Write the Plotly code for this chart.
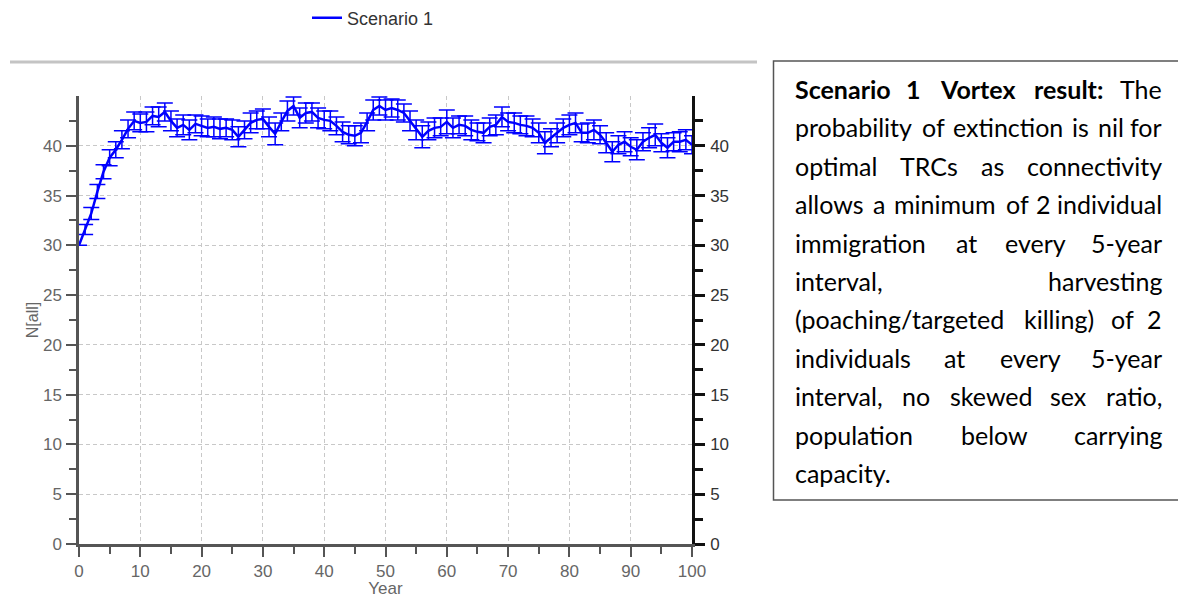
import plotly.graph_objects as go

# ---------------- data ----------------
series_name = "Scenario 1"
years = list(range(0, 101))
mean_n = [
    30.0, 31.6, 33.2, 35.4, 37.4, 38.8, 39.6, 40.6, 41.7, 42.5,
    42.3, 42.4, 43.0, 42.9, 43.4, 42.5, 41.8, 42.1, 41.6, 42.2,
    42.0, 41.8, 41.9, 41.7, 41.8, 41.6, 40.9, 41.6, 42.3, 42.6,
    42.7, 41.9, 41.2, 42.4, 43.5, 44.0, 42.8, 43.3, 43.4, 42.8,
    42.6, 42.5, 42.0, 41.4, 41.1, 41.0, 41.3, 42.4, 43.6, 44.0,
    43.6, 43.8, 43.6, 43.3, 42.5, 41.6, 40.9, 41.5, 41.8, 41.9,
    42.4, 41.8, 42.1, 42.0, 41.6, 41.4, 41.3, 41.9, 42.1, 42.9,
    42.4, 42.3, 42.1, 42.0, 41.8, 41.3, 40.3, 40.8, 41.3, 41.8,
    42.1, 42.3, 41.3, 41.3, 41.6, 41.1, 40.3, 39.4, 40.1, 40.4,
    39.9, 39.6, 40.4, 40.8, 41.1, 40.3, 39.8, 40.4, 40.4, 40.6,
    40.1,
]
se_n = [
    0.0, 0.5, 0.6, 0.7, 0.7, 0.8, 0.8, 0.9, 0.9, 0.9,
    0.9, 1.0, 0.9, 1.0, 0.9, 1.0, 0.9, 1.0, 1.0, 0.9,
    1.0, 0.9, 1.0, 1.0, 0.9, 1.0, 1.0, 0.9, 1.0, 0.9,
    1.0, 1.0, 1.1, 0.9, 1.0, 0.9, 1.0, 1.0, 0.9, 1.0,
    0.9, 1.0, 0.9, 1.0, 0.9, 1.0, 1.0, 0.9, 1.0, 0.9,
    1.0, 0.9, 1.0, 0.9, 1.0, 1.0, 1.1, 0.9, 1.0, 0.9,
    1.2, 1.0, 0.9, 1.0, 1.0, 0.9, 1.0, 0.9, 1.0, 1.0,
    0.9, 1.0, 0.9, 1.0, 0.9, 1.0, 1.1, 0.9, 1.0, 0.9,
    1.0, 1.0, 0.9, 1.0, 1.0, 0.9, 1.0, 1.0, 0.9, 1.0,
    0.9, 1.0, 0.9, 1.0, 1.1, 0.9, 1.0, 0.9, 1.0, 1.0,
    0.9,
]
x_ticks = list(range(0, 101, 10))
x_minor = list(range(5, 100, 10))
y_ticks = list(range(0, 41, 5))
y_minor = [2.5, 7.5, 12.5, 17.5, 22.5, 27.5, 32.5, 37.5, 42.5]
x_title = "Year"
y_title = "N[all]"

# note text: each line is a list of words (justified layout done below)
note_lines = [
    ["<b>Scenario</b>", "<b>1</b>", "<b>Vortex</b>", "<b>result:</b>", "The"],
    ["probability", "of", "extinction", "is", "nil", "for"],
    ["optimal", "TRCs", "as", "connectivity"],
    ["allows", "a", "minimum", "of", "2", "individual"],
    ["immigration", "at", "every", "5-year"],
    ["interval,", "harvesting"],
    ["(poaching/targeted", "killing)", "of", "2"],
    ["individuals", "at", "every", "5-year"],
    ["interval,", "no", "skewed", "sex", "ratio,"],
    ["population", "below", "carrying"],
    ["capacity."],
]
# pixel centres of the middle words of each justified line (layout only)
note_mid_centres = [
    [913, 977, 1068],
    [933, 1008, 1080, 1111],
    [929, 992],
    [879, 945, 1017, 1043],
    [966, 1035],
    [],
    [1059, 1122],
    [954, 1030],
    [916, 991, 1068],
    [994],
    [],
]

# ---------------- geometry ----------------
W, H = 1178, 598
L, R, T, B = 79, 692, 96, 544


def fx(p):
    return (p - L) / (R - L)


def fy(p):
    return (B - p) / (B - T)


BLUE = "#0000ff"
AXIS_GREY = "#555555"
LABEL_GREY = "#666666"
GRID = "#c8c8c8"
CHART_FONT = "Liberation Sans, Arial, sans-serif"

fig = go.Figure()
fig.add_trace(go.Scatter(
    x=years, y=mean_n, mode="lines", name=series_name,
    line=dict(color=BLUE, width=2.5),
    error_y=dict(type="data", array=se_n, visible=True,
                 color=BLUE, thickness=1.5, width=8),
))
# invisible trace to carry the right-hand axis
fig.add_trace(go.Scatter(
    x=[years[0]], y=[mean_n[0]], yaxis="y2", mode="lines",
    line=dict(width=0), showlegend=False, hoverinfo="skip",
))

fig.update_layout(
    width=W, height=H,
    margin=dict(l=L, r=W - R, t=T, b=H - B, pad=0, autoexpand=False),
    paper_bgcolor="white", plot_bgcolor="white",
    font=dict(family=CHART_FONT, size=17, color=LABEL_GREY),
    showlegend=True,
    legend=dict(orientation="h", x=fx(307), y=fy(18),
                xanchor="left", yanchor="middle",
                font=dict(size=18, color="#333333"),
                bgcolor="rgba(0,0,0,0)", borderwidth=0),
    xaxis=dict(
        range=[0, 100], tickvals=x_ticks, ticktext=[str(v) for v in x_ticks],
        showgrid=True, gridcolor=GRID, griddash="4px,3px", gridwidth=1,
        zeroline=False, showline=True, linecolor=AXIS_GREY, linewidth=2.5,
        ticks="outside", ticklen=10, tickwidth=2, tickcolor=AXIS_GREY,
        minor=dict(tickvals=x_minor, ticks="outside", ticklen=7,
                   tickwidth=2, tickcolor=AXIS_GREY, showgrid=False),
        tickfont=dict(size=17, color=LABEL_GREY), automargin=False,
        title=dict(text=x_title, standoff=3,
                   font=dict(size=17, color=LABEL_GREY)),
    ),
    yaxis=dict(
        range=[0, 45], tickvals=y_ticks, ticktext=[str(v) for v in y_ticks],
        showgrid=True, gridcolor=GRID, griddash="4px,3px", gridwidth=1,
        zeroline=False, showline=True, linecolor=AXIS_GREY, linewidth=2.5,
        ticks="outside", ticklen=10, tickwidth=2, tickcolor=AXIS_GREY,
        minor=dict(tickvals=y_minor, ticks="outside", ticklen=7,
                   tickwidth=2, tickcolor=AXIS_GREY, showgrid=False),
        tickfont=dict(size=17, color=LABEL_GREY), ticklabelstandoff=1,
        automargin=False,
        title=dict(text=y_title, standoff=1,
                   font=dict(size=16, color=LABEL_GREY)),
    ),
    yaxis2=dict(
        range=[0, 45], overlaying="y", side="right",
        tickvals=y_ticks, ticktext=[str(v) for v in y_ticks],
        showgrid=False, zeroline=False, showline=True,
        linecolor="#111111", linewidth=2.5,
        ticks="outside", ticklen=10, tickwidth=2.5, tickcolor="#111111",
        minor=dict(tickvals=y_minor, ticks="outside", ticklen=8,
                   tickwidth=2.5, tickcolor="#111111"),
        tickfont=dict(size=17, color="#333333"), ticklabelstandoff=2,
        automargin=False,
    ),
)

# separator line above plot and the text box frame
fig.add_shape(type="line", xref="paper", yref="paper",
              x0=fx(10), x1=fx(757), y0=fy(62), y1=fy(62),
              line=dict(color="#c4c4c4", width=3))
fig.add_shape(type="rect", xref="paper", yref="paper",
              x0=fx(773.5), x1=fx(1185), y0=fy(500), y1=fy(61),
              line=dict(color="#555555", width=1.5), fillcolor="rgba(0,0,0,0)")

# note text (justified by placing words)
NOTE_FONT = dict(family="Lato, 'Open Sans', sans-serif", size=25, color="#000000")
left_px, right_px = 793, 1164
line0_px, line_step = 89, 38.4
for i, words in enumerate(note_lines):
    ypx = line0_px + i * line_step
    fig.add_annotation(text=words[0], x=fx(left_px), y=fy(ypx),
                       xref="paper", yref="paper", xanchor="left",
                       yanchor="middle", showarrow=False, font=NOTE_FONT)
    if len(words) == 1:
        continue
    fig.add_annotation(text=words[-1], x=fx(right_px), y=fy(ypx),
                       xref="paper", yref="paper", xanchor="right",
                       yanchor="middle", showarrow=False, font=NOTE_FONT)
    for w, c in zip(words[1:-1], note_mid_centres[i]):
        fig.add_annotation(text=w, x=fx(c), y=fy(ypx),
                           xref="paper", yref="paper", xanchor="center",
                           yanchor="middle", showarrow=False, font=NOTE_FONT)

fig.write_html("out.html")
